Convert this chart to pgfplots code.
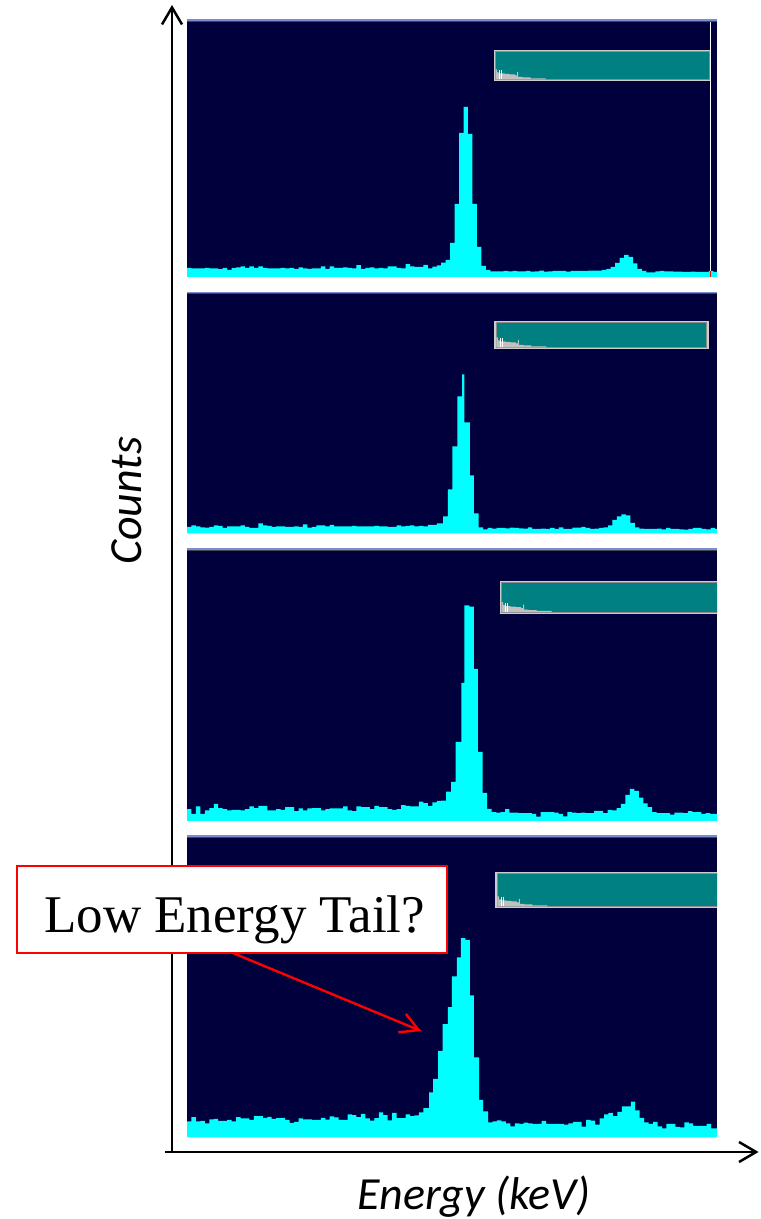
\documentclass[border=0pt]{standalone}
\usepackage{pgfplots}
\pgfplotsset{compat=1.18}
\usepackage{fontspec}
\setmainfont{Carlito}
\newfontfamily\seriffont{Liberation Serif}
\usetikzlibrary{arrows.meta}
\definecolor{bgnavy}{RGB}{0,0,60}
\definecolor{cy}{RGB}{0,255,255}
\definecolor{tealbox}{RGB}{0,128,128}
\definecolor{stripe}{RGB}{122,140,210}
\definecolor{stripedark}{RGB}{70,70,80}
\definecolor{minigray}{RGB}{192,192,192}
\definecolor{borderlight}{RGB}{205,205,205}
\definecolor{borderdark}{RGB}{140,140,140}
\pgfplotsset{
  panel/.style={scale only axis, width=265pt, xmin=187, xmax=717, ymin=0,
    axis background/.style={fill=bgnavy}, axis line style={draw=none},
    xtick=\empty, ytick=\empty, anchor=south west},
  hist/.style={fill=cy, draw=none, const plot mark left, x filter/.expression={187+4.46*x}},
}
\newcommand{\minihist}[2]{%
  \addplot[fill=minigray, draw=none, x filter/.expression={#1+x}, y filter/.expression={#2+y}]
  coordinates {(0,0)(0,10)(1.5,10)(1.5,7)(3.5,7)(3.5,6)(9,6)(9,5.5)(14,5.5)(14,5)(19.5,5)(19.5,4)(21.5,4)(21.5,7.5)(22.5,7.5)(22.5,2.5)(27,2.5)(27,2)(35,2)(35,1.2)(50,1.2)(50,0)};
  \addplot[white, line width=0.5pt, x filter/.expression={#1+x}, y filter/.expression={#2+y}] coordinates {(3.8,0)(3.8,9)};
  \addplot[white, line width=0.5pt, x filter/.expression={#1+x}, y filter/.expression={#2+y}] coordinates {(5.8,0)(5.8,9)};
}
\begin{document}
\begin{tikzpicture}
\path[use as bounding box] (0,0) rectangle (380pt,609.5pt);

% Panel 1
\begin{axis}[panel, at={(93.5pt,471pt)}, height=127.5pt, ymax=255]
\addplot[hist] coordinates {(0,9)(1,8.5)(2,8.5)(3,8.5)(4,9)(5,8.5)(6,8.5)(7,7.8)(8,9)(9,7)(10,9)(11,9.5)(12,10.5)(13,9)(14,10.5)(15,9)(16,10.5)(17,9)(18,8.5)(19,8.5)(20,8.5)(21,9)(22,8.5)(23,9)(24,8)(25,9.5)(26,8.5)(27,8)(28,8.5)(29,8.5)(30,10.5)(31,8)(32,10.5)(33,9)(34,9)(35,9.5)(36,9)(37,8.5)(38,11.8)(39,8)(40,9)(41,9.5)(42,8.5)(43,9)(44,8.5)(45,10.5)(46,10.5)(47,9)(48,8.5)(49,12.8)(50,10.5)(51,10)(52,10)(53,12)(54,8.5)(55,10.3)(56,11.7)(57,14.3)(58,17)(59,34)(60,73)(61,144)(62,170)(63,143)(64,73)(65,30)(66,11)(67,7)(68,5.7)(69,5.7)(70,5.7)(71,6)(72,5.7)(73,6)(74,5.7)(75,5.7)(76,6)(77,5.4)(78,5.7)(79,6.4)(80,5.4)(81,5.7)(82,6)(83,6)(84,6)(85,5.4)(86,6)(87,6)(88,6)(89,6)(90,6.4)(91,6.4)(92,6.4)(93,7)(94,8)(95,10)(96,14)(97,19)(98,22)(99,20)(100,13.5)(101,8)(102,6.2)(103,4.7)(104,4.7)(105,5.7)(106,6)(107,5.7)(108,5.7)(109,5.4)(110,5.4)(111,5)(112,5)(113,5.4)(114,5)(115,5)(116,5)(117,6)(118,5)(118.83,5)} \closedcycle;
\fill[borderlight] (axis cs:493.5,196) rectangle (axis cs:711,227);
\fill[tealbox, draw=borderdark, line width=0.3pt] (axis cs:495.5,197.5) rectangle (axis cs:709.5,225.3);
\minihist{495.5}{197.5}
\draw[white, line width=0.5pt] (axis cs:710.7,0) -- (axis cs:710.7,255);
\draw[red, line width=0.5pt] (axis cs:710.7,0) -- (axis cs:710.7,6);
\end{axis}

% Panel 2
\begin{axis}[panel, at={(93.5pt,342.85pt)}, height=119.65pt, ymax=239.3]
\addplot[hist] coordinates {(0,6.4)(1,7.8)(2,7)(3,6)(4,5.7)(5,6.4)(6,8)(7,7.4)(8,5.4)(9,7)(10,7)(11,6.8)(12,8)(13,6.4)(14,5.4)(15,5.4)(16,9.8)(17,8)(18,7.4)(19,6.4)(20,7)(21,6.8)(22,6.4)(23,6.4)(24,7)(25,6.4)(26,8.8)(27,5.7)(28,6.4)(29,7.8)(30,7.8)(31,6.8)(32,8.4)(33,6.8)(34,6.8)(35,6.8)(36,6.8)(37,7.4)(38,6.8)(39,6.8)(40,7)(41,7)(42,7.4)(43,7)(44,7)(45,6.4)(46,6.4)(47,7.8)(48,6.8)(49,7.4)(50,7.8)(51,6.8)(52,7.4)(53,7)(54,8.4)(55,8.4)(56,9.8)(57.4,17)(58.5,44)(59.5,87)(60.6,137)(61.7,159)(62.2,111)(63.4,58)(64.3,20)(65.4,6)(66.4,4)(67.4,5.4)(68.4,4.7)(69.4,5.4)(70.4,5.4)(71.4,5)(72.4,5.7)(73.4,5.4)(74.4,5)(75.4,4.7)(76.4,6)(77.4,4.4)(78.4,4.4)(79.4,4.7)(80.4,4.4)(81.4,5.4)(82.4,4.4)(83.4,6)(84.4,4.4)(85.4,4.4)(86.4,5.7)(87.4,5.7)(88.4,6.4)(89.4,5.4)(90.4,4.4)(91.4,4.7)(92.4,5.4)(93.4,6)(94.4,8)(95.4,13.5)(96.4,17)(97.4,19)(98.4,18)(99.4,10.5)(100.4,6)(101.4,4.7)(102.4,4.4)(103.4,4.4)(104.4,4.4)(105.4,4.7)(106.4,4)(107.4,5.4)(108.4,4.4)(109.4,4.4)(110.4,4)(111.4,3.7)(112.4,4.4)(113.4,5.4)(114.4,5.4)(115.4,4.4)(116.4,4)(117.4,5.4)(118.4,4.4)(118.83,4.4)} \closedcycle;
\fill[borderlight] (axis cs:494.3,184) rectangle (axis cs:708.6,212.6);
\fill[tealbox, draw=borderdark, line width=0.3pt] (axis cs:496.3,185.8) rectangle (axis cs:706.6,210.8);
\minihist{496.3}{185.8}
\end{axis}

% Panel 3
\begin{axis}[panel, at={(93.5pt,199pt)}, height=135pt, ymax=270]
\addplot[hist] coordinates {(0,11.8)(1,7)(2,14.5)(3,7)(4,10.5)(5,12.8)(6,17.2)(7,12.8)(8,11.8)(9,10.5)(10,11.1)(11,11.1)(12,10.5)(13,11.8)(14,14.5)(15,12.8)(16,15.2)(17,15.2)(18,10.5)(19,10.5)(20,11.8)(21,11.1)(22,13.8)(23,13.8)(24,9.8)(25,12.5)(26,10.5)(27,12.5)(28,12.8)(29,12.8)(30,10.5)(31,11.8)(32,12.5)(33,12.5)(34,12.5)(35,14.5)(36,10.5)(37,9.8)(38,14.5)(39,13.8)(40,13.8)(41,11.8)(42,15.2)(43,13.8)(44,13.8)(45,11.8)(46,11.1)(47,11.8)(48,15.9)(49,15.2)(50,14.5)(51,14.5)(52,19.3)(53,17.9)(54,15.2)(55,18.6)(56,20)(57,20.3)(58.1,29.3)(59.2,39)(60.2,79)(61.5,138)(62.2,215.7)(63.3,214.3)(64.3,152)(65.2,69)(66.3,28)(67.3,12)(68.3,8.8)(69.3,8.4)(70.3,8.8)(71.3,11.8)(72.3,8.4)(73.3,8.4)(74.3,7.8)(75.3,7.8)(76.3,7.8)(77.3,7)(78.3,4.4)(79.3,8.8)(80.3,8.8)(81.3,8.8)(82.3,8.4)(83.3,7)(84.3,4.7)(85.3,8.8)(86.3,8.4)(87.3,7.8)(88.3,8.4)(89.3,7.8)(90.3,7.8)(91.3,10.1)(92.3,10.1)(93.3,7.8)(94.3,11.1)(95.3,10.5)(96.3,12.8)(97.3,17.2)(98.3,26)(99.3,32)(100.3,30)(101.3,23.3)(102.3,17.6)(103.3,13.8)(104.3,8.8)(105.3,7.8)(106.3,7.8)(107.3,7.8)(108.3,6.4)(109.3,8.4)(110.3,8.4)(111.3,7.8)(112.3,9.8)(113.3,8.8)(114.3,8.8)(115.3,7)(116.3,7.8)(117.3,7)(118.3,7)(118.83,7)} \closedcycle;
\fill[borderlight] (axis cs:499.6,207) rectangle (axis cs:720,240);
\fill[tealbox, draw=borderdark, line width=0.3pt] (axis cs:501.6,208.8) rectangle (axis cs:722,238.2);
\minihist{501.6}{208.8}
\end{axis}

% Panel 4
\begin{axis}[panel, at={(93.5pt,40.75pt)}, height=149.75pt, ymax=299.5]
\addplot[hist] coordinates {(0,16.2)(1,20.3)(2,16.2)(3,16.6)(4,14.2)(5,18.2)(6,18.6)(7,16.6)(8,16.6)(9,17.6)(10,16.2)(11,20.3)(12,19)(13,19)(14,17.6)(15,21.3)(16,21.3)(17,19.6)(18,20.6)(19,18.6)(20,19.3)(21,19.6)(22,17.6)(23,14.5)(24,15.5)(25,19)(26,18.2)(27,18.2)(28,17.6)(29,17.6)(30,19.6)(31,17.9)(32,21)(33,20)(34,17.6)(35,17.6)(36,23)(37,22.3)(38,20.3)(39,23.6)(40,19)(41,16.9)(42,19.3)(43,25)(44,22.3)(45,17.2)(46,24.7)(47,19.3)(48,19.3)(49,23)(50,21.3)(51,22)(52,25)(53,29.3)(54.3,45)(55.2,58.7)(56.3,86.7)(57.3,113.3)(58.5,130.3)(59.4,161)(60.5,180)(61.4,199.3)(62.4,197.7)(63.4,142)(64.3,80)(65.5,37.7)(66.4,26)(67.5,15)(68.5,16)(69.5,17)(70.5,16)(71.5,14)(72.5,11)(73.5,14)(74.5,13.5)(75.5,14.9)(76.5,14.2)(77.5,13.5)(78.5,13.5)(79.5,16.6)(80.5,13.5)(81.5,13.5)(82.5,13.5)(83.5,13.5)(84.5,12.8)(85.5,14.2)(86.5,15.5)(87.5,15.5)(88.5,10.8)(89.5,17.6)(90.5,16.9)(91.5,12.8)(92.5,19)(93.5,23)(94.5,24.7)(95.5,21.3)(96.5,25.7)(97.5,31)(98.5,31)(99.5,35.8)(100.5,27)(101.5,19.6)(102.5,15.2)(103.5,13.5)(104.5,15.5)(105.5,11.1)(106.5,9.1)(107.5,13.5)(108.5,13.5)(109.5,10.5)(110.5,10.1)(111.5,15.2)(112.5,14.2)(113.5,11.5)(114.5,11.5)(115.5,11.5)(116.5,13.5)(117.5,9.1)(118.83,9.1)} \closedcycle;
\fill[borderlight] (axis cs:495.4,229.2) rectangle (axis cs:720,265.8);
\fill[tealbox, draw=borderdark, line width=0.3pt] (axis cs:497.4,231) rectangle (axis cs:722,264);
\minihist{497.4}{231}
\end{axis}

\begin{scope}[x=0.5pt,y=-0.5pt,shift={(0,-1219)}]
% stripes above panels
\fill[stripe] (187,19) rectangle (717,21); \fill[stripedark] (187,21) rectangle (717,22);
\fill[stripe] (187,291.7) rectangle (717,293.3); \fill[stripedark] (187,293.3) rectangle (717,294);
\fill[stripe] (187,548.3) rectangle (717,550); \fill[stripedark] (187,550) rectangle (717,551);
\fill[stripe] (187,835) rectangle (717,837); \fill[stripedark] (187,837) rectangle (717,838);
% outer axes
\draw[line width=1.25pt, -{Straight Barb[length=8.5pt,width=10pt]}] (172,1152.5) -- (172,5);
\draw[line width=1.25pt, -{Straight Barb[length=8.5pt,width=10pt]}] (165,1152) -- (758.5,1152);
\node[rotate=90, anchor=base, font=\itshape\fontsize{23}{27}\selectfont] at (141,501) {Counts};
\node[anchor=base, font=\itshape\fontsize{23}{27}\selectfont] at (474,1209) {Energy (keV)};
% annotation
\draw[red, line width=1.2pt, -{Straight Barb[length=9pt,width=10pt]}] (222,948.5) -- (421,1031);
\node[draw=red, line width=0.9pt, fill=white, minimum width=215pt, minimum height=43.5pt, inner sep=0pt] at (232,909.5) {};
\node[anchor=base, font=\seriffont\fontsize{26.5}{30}\selectfont] at (234.6,932.7) {Low Energy Tail?};
\end{scope}
\end{tikzpicture}
\end{document}
